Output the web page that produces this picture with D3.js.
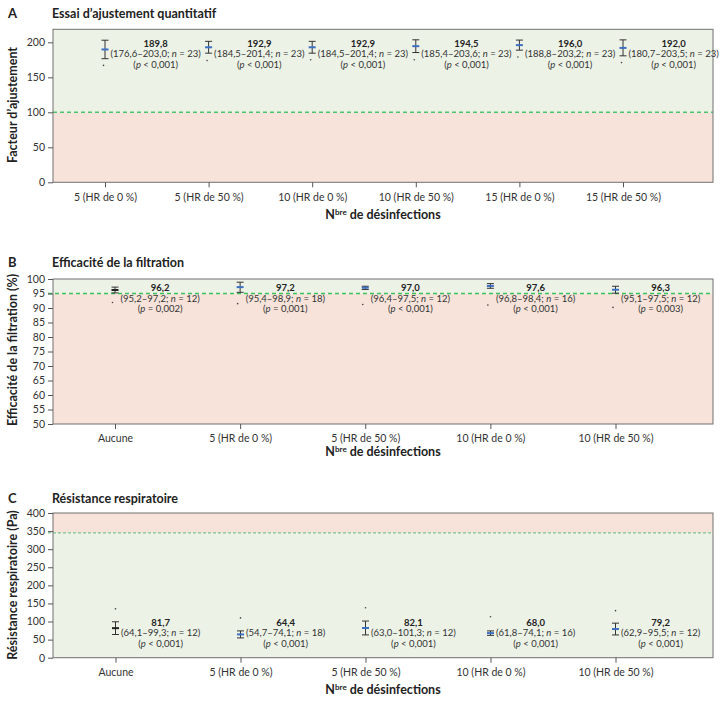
<!DOCTYPE html>
<html><head><meta charset="utf-8">
<script src="https://cdn.jsdelivr.net/npm/d3@7"></script>
<style>
body{margin:0;background:#fff;}
text{font-family:"Lato","Open Sans",sans-serif;}
</style></head>
<body><svg id="c" width="721" height="701"></svg>
<script>
// ---------- DATA ----------
const catsA = ["5 (HR de 0 %)","5 (HR de 50 %)","10 (HR de 0 %)","10 (HR de 50 %)","15 (HR de 0 %)","15 (HR de 50 %)"];
const meanA = [189.8,192.9,192.9,194.5,196.0,192.0];
const lowA  = [176.6,184.5,184.5,185.4,188.8,180.7];
const highA = [203.0,201.4,201.4,203.6,203.2,203.5];
const nA    = [23,23,23,23,23,23];
const pA    = ["< 0,001","< 0,001","< 0,001","< 0,001","< 0,001","< 0,001"];
const dotA  = [167,174,175,175,179,171];
const ticksA = [0,50,100,150,200];

const catsB = ["Aucune","5 (HR de 0 %)","5 (HR de 50 %)","10 (HR de 0 %)","10 (HR de 50 %)"];
const meanB = [96.2,97.2,97.0,97.6,96.3];
const lowB  = [95.2,95.4,96.4,96.8,95.1];
const highB = [97.2,98.9,97.5,98.4,97.5];
const nB    = [12,18,12,16,12];
const pB    = ["= 0,002","= 0,001","< 0,001","< 0,001","= 0,003"];
const dotB  = [91.9,91.5,91.2,91.0,90.2];
const ticksB = [50,55,60,65,70,75,80,85,90,95,100];

const catsC = ["Aucune","5 (HR de 0 %)","5 (HR de 50 %)","10 (HR de 0 %)","10 (HR de 50 %)"];
const meanC = [81.7,64.4,82.1,68.0,79.2];
const lowC  = [64.1,54.7,63.0,61.8,62.9];
const highC = [99.3,74.1,101.3,74.1,95.5];
const nC    = [12,18,12,16,12];
const pC    = ["< 0,001","< 0,001","< 0,001","< 0,001","< 0,001"];
const dotC  = [135,110,138,113,130];
const ticksC = [0,50,100,150,200,250,300,350,400];

// ---------- DRAW ----------
const svg = d3.select("#c");
const GREEN="#edf2e7", PINK="#f7e3da", BLUE="#3d6fc2";
const fmt = v => d3.format(".1f")(v).replace(".", ",");

function panel(o){
  const g = svg.append("g");
  const y = d3.scaleLinear().domain(o.domain).range([o.bottom, o.top]);
  const x = d3.scalePoint().domain(o.cats).range(o.xr);
  // backgrounds
  const above = o.goodAbove ? GREEN : PINK, below = o.goodAbove ? PINK : GREEN;
  g.append("rect").attr("x",o.left).attr("width",o.right-o.left)
    .attr("y",o.top).attr("height",y(o.threshold)-o.top).attr("fill",above);
  g.append("rect").attr("x",o.left).attr("width",o.right-o.left)
    .attr("y",y(o.threshold)).attr("height",o.bottom-y(o.threshold)).attr("fill",below);
  g.append("line").attr("x1",o.left+o.dashStart).attr("x2",o.right)
    .attr("y1",y(o.threshold)).attr("y2",y(o.threshold))
    .attr("stroke",o.dashColor).attr("stroke-width",o.dashW).attr("stroke-dasharray",o.dash);
  // frame
  g.append("rect").attr("x",o.left).attr("y",o.top).attr("width",o.right-o.left)
    .attr("height",o.bottom-o.top).attr("fill","none").attr("stroke","#707070").attr("stroke-width",1);
  // y axis
  const ya = g.append("g").attr("transform",`translate(${o.left},0)`)
    .call(d3.axisLeft(y).tickValues(o.ticks).tickSize(5).tickPadding(3));
  ya.select(".domain").remove();
  ya.selectAll("line").attr("stroke","#555");
  ya.selectAll("text").attr("font-size",10.5).attr("fill","#333").style("font-family","Lato");
  // x axis
  const xa = g.append("g").attr("transform",`translate(0,${o.bottom})`)
    .call(d3.axisBottom(x).tickSize(5).tickPadding(6));
  xa.select(".domain").remove();
  xa.selectAll("line").attr("stroke","#555");
  xa.selectAll("text").attr("font-size",10.5).attr("fill","#333").style("font-family","Lato");
  // error bars
  const cap=3.5;
  o.cats.forEach((c,i)=>{
    const cx = x(c);
    g.append("line").attr("x1",cx).attr("x2",cx).attr("y1",y(o.high[i])).attr("y2",y(o.low[i]))
      .attr("stroke","#333").attr("stroke-width",1);
    [o.high[i],o.low[i]].forEach(v=>g.append("line").attr("x1",cx-cap).attr("x2",cx+cap)
      .attr("y1",y(v)).attr("y2",y(v)).attr("stroke","#333").attr("stroke-width",1));
    const mc = (o.blackFirst && i===0) ? "#222" : BLUE;
    g.append("line").attr("x1",cx-cap).attr("x2",cx+cap).attr("y1",y(o.mean[i])).attr("y2",y(o.mean[i]))
      .attr("stroke",mc).attr("stroke-width",2);
    g.append("circle").attr("cx",cx-o.dotDx).attr("cy",y(o.dot[i])).attr("r",0.8).attr("fill","#444");
    // labels
    const ly = y(o.labelAt);
    const t2 = g.append("text").attr("font-size",9.5).attr("fill","#333").attr("text-anchor","middle");
    t2.append("tspan").text(`(${fmt(o.low[i])}–${fmt(o.high[i])}; `);
    t2.append("tspan").attr("font-style","italic").text("n");
    t2.append("tspan").text(` = ${o.n[i]})`);
    const w = t2.node().getComputedTextLength();
    const tx = cx + 5.5 + w/2;
    t2.attr("x",tx).attr("y",ly+14);
    g.append("text").attr("x",tx).attr("y",ly+3.5).attr("font-size",9.5).attr("font-weight","bold")
      .attr("fill","#222").attr("text-anchor","middle").text(fmt(o.mean[i]));
    const t3 = g.append("text").attr("x",tx).attr("y",ly+24.5).attr("font-size",9.5).attr("fill","#333").attr("text-anchor","middle");
    t3.append("tspan").text("(");
    t3.append("tspan").attr("font-style","italic").text("p");
    t3.append("tspan").text(` ${o.p[i]})`);
  });
  // titles
  svg.append("text").attr("x",8).attr("y",o.titleY).attr("font-size",13).attr("font-weight","bold")
    .attr("fill","#222").text(o.letter);
  svg.append("text").attr("x",52).attr("y",o.titleY).attr("font-size",12.5).attr("font-weight","bold")
    .attr("fill","#222").text(o.title);
  svg.append("text").attr("transform",`translate(17,${o.ytCenter}) rotate(-90)`).attr("text-anchor","middle")
    .attr("font-size",12.5).attr("font-weight","bold").attr("fill","#222").text(o.ytitle);
  const xt = svg.append("text").attr("x",(o.left+o.right)/2).attr("y",o.xtY).attr("text-anchor","middle")
    .attr("font-size",12.5).attr("font-weight","bold").attr("fill","#222");
  xt.append("tspan").text("N");
  xt.append("tspan").attr("font-size",8).attr("dy",-4).text("bre");
  xt.append("tspan").attr("dy",4).text(" de désinfections");
}

panel({letter:"A",title:"Essai d’ajustement quantitatif",ytitle:"Facteur d’ajustement",
  cats:catsA,mean:meanA,low:lowA,high:highA,n:nA,p:pA,dot:dotA,ticks:ticksA,
  domain:[0,218.6],top:29.3,bottom:182.3,left:53,right:713,xr:[105,623],
  threshold:100,goodAbove:true,dashColor:"#4cc46a",dashW:1.5,dash:"4,3",dashStart:0,
  labelAt:198.6,blackFirst:false,dotDx:1.5,titleY:18,ytCenter:105,xtY:219});

panel({letter:"B",title:"Efficacité de la filtration",ytitle:"Efficacité de la filtration (%)",
  cats:catsB,mean:meanB,low:lowB,high:highB,n:nB,p:pB,dot:dotB,ticks:ticksB,
  domain:[50,100],top:279,bottom:424,left:53,right:713,xr:[115,615.5],
  threshold:95,goodAbove:true,dashColor:"#3cc25a",dashW:1.3,dash:"4,3",dashStart:-5,
  labelAt:96.9,blackFirst:true,dotDx:2.5,titleY:267,ytCenter:350,xtY:456});

panel({letter:"C",title:"Résistance respiratoire",ytitle:"Résistance respiratoire (Pa)",
  cats:catsC,mean:meanC,low:lowC,high:highC,n:nC,p:pC,dot:dotC,ticks:ticksC,
  domain:[0,400],top:513,bottom:657.7,left:53,right:713,xr:[115.5,615.5],
  threshold:345,goodAbove:false,dashColor:"#5cb878",dashW:1,dash:"3,2",dashStart:-5,
  labelAt:98,blackFirst:true,dotDx:0,titleY:503,ytCenter:585,xtY:694});
</script></body></html>
